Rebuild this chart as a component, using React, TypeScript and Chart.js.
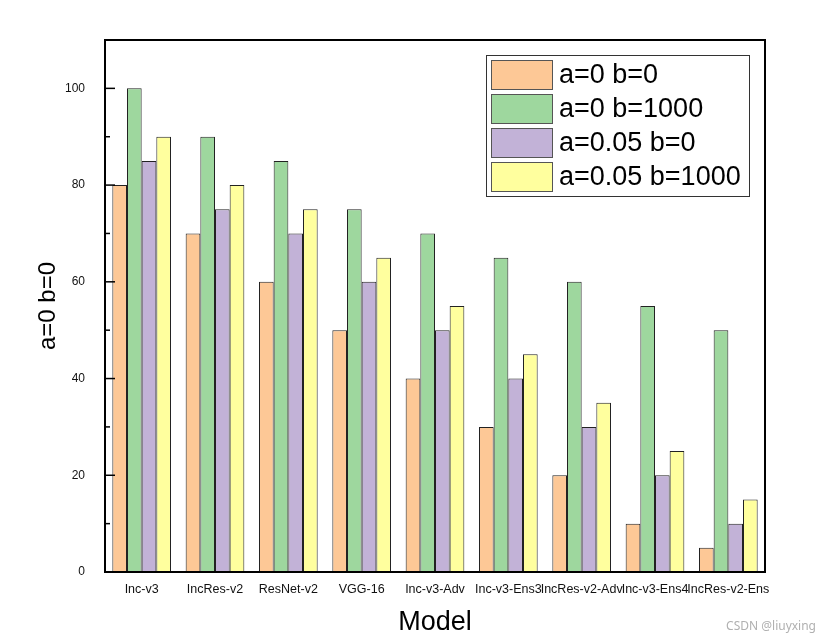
import React, { useEffect, useRef } from "react";
import { Chart, registerables } from "chart.js";

Chart.register(...registerables);

const categories = [
  "Inc-v3",
  "IncRes-v2",
  "ResNet-v2",
  "VGG-16",
  "Inc-v3-Adv",
  "Inc-v3-Ens3",
  "IncRes-v2-Adv",
  "Inc-v3-Ens4",
  "IncRes-v2-Ens",
];
const seriesLabels = ["a=0 b=0", "a=0 b=1000", "a=0.05 b=0", "a=0.05 b=1000"];
const a0b0 = [80, 70, 60, 50, 40, 30, 20, 10, 5];
const a0b1000 = [100, 90, 85, 75, 70, 65, 60, 55, 50];
const a005b0 = [85, 75, 70, 60, 50, 40, 30, 20, 10];
const a005b1000 = [90, 80, 75, 65, 55, 45, 35, 25, 15];
const seriesColors = ["#FDC896", "#9ED79E", "#C2B2D7", "#FFFF9E"];
const yTickValues = [0, 10, 20, 30, 40, 50, 60, 70, 80, 90, 100, 110];

const W = 829;
const H = 643;

const framePlugin = {
  id: "frameAndTicks",
  afterDatasetsDraw(chart: any) {
    const { ctx, chartArea } = chart;
    const y = chart.scales.y;
    ctx.save();
    ctx.strokeStyle = "#000";
    ctx.lineWidth = 2;
    ctx.strokeRect(chartArea.left, chartArea.top, chartArea.right - chartArea.left, chartArea.bottom - chartArea.top);
    ctx.lineWidth = 1.5;
    yTickValues.forEach((v) => {
      if (v >= 110) return;
      const py = y.getPixelForValue(v);
      const len = v % 20 === 0 ? 10 : 5;
      ctx.beginPath();
      ctx.moveTo(chartArea.left, py);
      ctx.lineTo(chartArea.left + len, py);
      ctx.stroke();
    });
    ctx.restore();
  },
};

const legendPlugin = {
  id: "boxLegend",
  afterDraw(chart: any) {
    const { ctx } = chart;
    const bx = 486;
    const by = 55;
    const bw = 263;
    const bh = 141;
    ctx.save();
    ctx.fillStyle = "#fff";
    ctx.fillRect(bx, by, bw, bh);
    ctx.strokeStyle = "#333";
    ctx.lineWidth = 1;
    ctx.strokeRect(bx + 0.5, by + 0.5, bw, bh);
    chart.data.datasets.forEach((ds: any, i: number) => {
      const sy = 60 + i * 34;
      ctx.fillStyle = ds.backgroundColor;
      ctx.fillRect(491, sy, 61, 29);
      ctx.strokeStyle = "#555";
      ctx.lineWidth = 1;
      ctx.strokeRect(491.5, sy + 0.5, 61, 29);
      ctx.fillStyle = "#000";
      ctx.font = "27px Arial, 'Liberation Sans', sans-serif";
      ctx.textBaseline = "middle";
      ctx.textAlign = "left";
      ctx.fillText(ds.label, 559, sy + 16);
    });
    ctx.fillStyle = "#b0b0b0";
    ctx.font = "12px 'Noto Sans', Arial, sans-serif";
    ctx.textAlign = "right";
    ctx.textBaseline = "middle";
    ctx.fillText("CSDN @liuyxing", 816, 627);
    ctx.restore();
  },
};

export default function App() {
  const ref = useRef<HTMLCanvasElement | null>(null);
  useEffect(() => {
    document.body.style.margin = "0";
    const values = [a0b0, a0b1000, a005b0, a005b1000];
    const chart = new Chart(ref.current as HTMLCanvasElement, {
      type: "bar",
      data: {
        labels: categories,
        datasets: values.map((d, i) => ({
          label: seriesLabels[i],
          data: d,
          backgroundColor: seriesColors[i],
          borderColor: "#222",
          borderWidth: 1,
          categoryPercentage: 0.8,
          barPercentage: 1.0,
        })),
      },
      options: {
        animation: false,
        responsive: false,
        maintainAspectRatio: false,
        layout: { padding: { top: 40, right: 64, left: 0, bottom: 0 } },
        plugins: {
          legend: { display: false },
          tooltip: { enabled: false },
        },
        scales: {
          x: {
            grid: { display: false },
            border: { display: false },
            ticks: {
              color: "#111",
              font: { family: "Arial, 'Liberation Sans', sans-serif", size: 12.5 },
              padding: 2,
              maxRotation: 0,
              autoSkip: false,
            },
            title: {
              display: true,
              text: "Model",
              color: "#000",
              font: { family: "Arial, 'Liberation Sans', sans-serif", size: 27 },
              padding: { top: 4, bottom: 4 },
            },
            afterFit: (s: any) => {
              s.height = 71;
            },
          },
          y: {
            min: 0,
            max: 110,
            grid: { display: false },
            border: { display: false },
            afterBuildTicks: (s: any) => {
              s.ticks = yTickValues.map((v) => ({ value: v }));
            },
            ticks: {
              color: "#111",
              font: { family: "Arial, 'Liberation Sans', sans-serif", size: 12 },
              padding: 12,
              callback: (v: any) => (Number(v) % 20 === 0 && Number(v) <= 100 ? String(v) : ""),
            },
            title: {
              display: true,
              text: "a=0 b=0",
              color: "#000",
              font: { family: "Arial, 'Liberation Sans', sans-serif", size: 24 },
              padding: { top: 34, bottom: 0 },
            },
            afterFit: (s: any) => {
              s.width = 105;
            },
          },
        },
      },
      plugins: [framePlugin, legendPlugin],
    });
    return () => chart.destroy();
  }, []);
  return (
    <div style={{ width: W, height: H, position: "relative", background: "#fff" }}>
      <canvas ref={ref} width={W} height={H} style={{ width: W, height: H, display: "block" }} />
    </div>
  );
}
